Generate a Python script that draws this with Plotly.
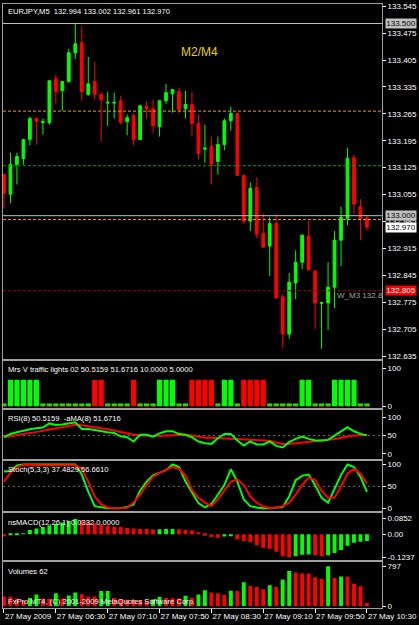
import plotly.graph_objects as go
from plotly.subplots import make_subplots

# ---------------- data ----------------
bar_index = list(range(57))
tick_bars = [0, 8, 16, 24, 32, 40, 48, 56]
tick_labels = ["27 May 2009", "27 May 06:30", "27 May 07:10", "27 May 07:50",
               "27 May 08:30", "27 May 09:10", "27 May 09:50", "27 May 10:30"]

opens = [133.107, 133.056, 133.133, 133.149, 133.198, 133.253, 133.242, 133.242, 133.356, 133.325,
         133.349, 133.424, 133.450, 133.315, 133.349, 133.315, 133.293, 133.293, 133.299, 133.245,
         133.260, 133.198, 133.284, 133.278, 133.232, 133.299, 133.317, 133.323, 133.278, 133.289,
         133.240, 133.173, 133.180, 133.141, 133.185, 133.247, 133.266, 133.105, 132.986, 133.074,
         132.954, 132.921, 132.980, 132.789, 132.692, 132.825, 132.879, 132.947, 132.856, 132.772,
         132.773, 132.814, 132.936, 132.993, 133.151, 133.024, 132.994]
highs = [133.109, 133.164, 133.164, 133.200, 133.258, 133.255, 133.253, 133.352, 133.367, 133.350,
         133.434, 133.499, 133.494, 133.413, 133.400, 133.323, 133.323, 133.320, 133.312, 133.263,
         133.266, 133.287, 133.297, 133.302, 133.300, 133.343, 133.329, 133.333, 133.325, 133.323,
         133.263, 133.237, 133.206, 133.206, 133.253, 133.284, 133.267, 133.105, 133.087, 133.100,
         133.006, 132.996, 133.004, 132.796, 132.851, 132.910, 132.952, 132.986, 132.857, 132.776,
         132.879, 132.960, 133.024, 133.177, 133.159, 133.043, 133.002]
lows = [133.019, 133.032, 133.081, 133.133, 133.183, 133.185, 133.211, 133.237, 133.291, 133.273,
        133.346, 133.408, 133.299, 133.312, 133.302, 133.193, 133.234, 133.253, 133.237, 133.209,
        133.183, 133.197, 133.253, 133.214, 133.206, 133.291, 133.268, 133.266, 133.253, 133.206,
        133.146, 133.138, 133.081, 133.107, 133.170, 133.221, 133.104, 132.978, 132.960, 132.941,
        132.917, 132.843, 132.785, 132.656, 132.680, 132.783, 132.861, 132.858, 132.705, 132.654,
        132.703, 132.760, 132.869, 132.975, 133.004, 132.936, 132.961]
closes = [133.058, 133.133, 133.154, 133.198, 133.253, 133.245, 133.245, 133.351, 133.323, 133.349,
          133.424, 133.447, 133.323, 133.343, 133.315, 133.302, 133.295, 133.295, 133.242, 133.255,
          133.198, 133.286, 133.278, 133.234, 133.299, 133.320, 133.328, 133.276, 133.289, 133.240,
          133.162, 133.176, 133.133, 133.185, 133.247, 133.266, 133.105, 132.986, 133.071, 132.952,
          132.918, 132.980, 132.786, 132.692, 132.827, 132.879, 132.949, 132.859, 132.773, 132.774,
          132.814, 132.936, 132.996, 133.149, 133.030, 132.993, 132.970]

price_ticks = [133.545, 133.475, 133.405, 133.335, 133.265, 133.195, 133.125, 133.055,
               132.985, 132.915, 132.845, 132.775, 132.705, 132.635]

# horizontal levels on the price chart
level_gray = [133.500, 133.000]
level_orange = [133.272, 132.990]
level_green = [133.130]
level_darkred = [132.805]
last_price = 132.970

# traffic lights: 1 green, -1 red, 0 none
traffic = [0, 1, 1, 1, 1, 1, 0, 0, 0, 0, 0, 0, 0, 0, -1, -1, 0, 0, 0, 0,
           -1, 0, 0, 0, 1, 1, 1, 0, 0, -1, -1, -1, -1, 0, 1, 1, 0, -1, -1, -1,
           -1, 0, 0, 0, 0, 0, 1, 1, 0, 0, 0, 1, 1, 1, 1, 0, 0]
light_on = 70
light_off_red = 3
light_off_green = 4

rsi = [45.5, 54.5, 59, 63.5, 67, 70, 71.6, 83, 79, 80,
       82.4, 86, 68, 68, 65, 61, 59, 57, 48, 45.5,
       34, 52, 52, 47, 56, 61.7, 62, 54, 52, 45.5,
       34, 29, 27.5, 42.8, 54.5, 54.5, 36.5, 23, 34, 26,
       26, 34, 22, 17.6, 32, 41, 47.3, 41, 36.5, 36.5,
       38.3, 50, 61, 72.5, 61.7, 54.5, 50.5159]
rsi_ma = [45.5, 48, 51, 54, 57, 60, 63, 66, 69, 72,
          76, 79, 78, 76, 73, 70, 67, 63, 59, 55,
          52, 50, 49, 48, 49, 50, 51, 52, 52, 50,
          46, 44, 44, 43, 42, 41, 40, 39, 39, 39,
          38, 36, 31, 27, 27, 29, 31, 33, 34, 35,
          37, 41, 44, 48, 50, 51, 51.6716]

stoch_k = [84, 85, 98, 100, 100, 100, 100, 100, 99, 100,
           100, 100, 77, 38, 5, 2, 0, 0, 0, 3,
           9, 40, 61, 75, 81, 87, 100, 94, 61, 38,
           12, 2, 10, 31, 53, 89, 61, 20, 5, 2,
           0, 0, 2, 3, 27, 64, 74, 77, 53, 24,
           13, 46, 76, 100, 94, 72, 37.4829]
stoch_d = [61, 81, 94, 99, 99, 98, 98, 98, 98, 98,
           98, 98, 90, 61, 27, 9, 2, 0, 0, 1,
           13, 31, 53, 72, 81, 87, 94, 90, 75, 42,
           24, 13, 5, 21, 40, 61, 66, 53, 27, 13,
           4, 1, 2, 5, 13, 31, 53, 70, 65, 40,
           24, 24, 50, 79, 90, 79, 56.661]

macd = [-0.011, -0.006, -0.004, 0.004, 0.022, 0.030, 0.038, 0.046, 0.055, 0.063,
        0.070, 0.082, 0.074, 0.066, 0.058, 0.050, 0.046, 0.041, 0.038, 0.033,
        0.030, 0.028, 0.027, 0.025, 0.026, 0.027, 0.028, 0.026, 0.022, 0.020,
        0.008, -0.008, -0.016, -0.020, -0.013, -0.011, -0.029, -0.037, -0.044, -0.060,
        -0.073, -0.078, -0.094, -0.119, -0.1237, -0.119, -0.111, -0.110, -0.114, -0.119,
        -0.114, -0.101, -0.085, -0.062, -0.046, -0.041, -0.037]

volumes = [190, 185, 145, 100, 160, 230, 150, 140, 255, 150,
           210, 270, 235, 190, 188, 300, 302, 160, 130, 125,
           120, 105, 95, 130, 185, 160, 155, 150, 205, 160,
           230, 315, 272, 253, 221, 304, 298, 477, 400, 381,
           336, 413, 381, 528, 701, 669, 650, 648, 573, 541,
           797, 560, 592, 585, 445, 394, 62]

# ---------------- styles ----------------
UP = "#00ff00"
DN = "#ff0000"
TXT = "#ffffff"
BORDER = "#a0a0a0"
FONT = "Liberation Sans"

fig = make_subplots(rows=6, cols=1, shared_xaxes=True, vertical_spacing=0)

fig.add_trace(go.Candlestick(
    x=bar_index, open=opens, high=highs, low=lows, close=closes,
    increasing=dict(line=dict(color=UP, width=1), fillcolor=UP),
    decreasing=dict(line=dict(color=DN, width=1), fillcolor=DN),
    whiskerwidth=0, hoverinfo="skip"), row=1, col=1)

# traffic lights
g_x = [i for i, t in zip(bar_index, traffic) if t == 1]
r_x = [i for i, t in zip(bar_index, traffic) if t == -1]
o_x = [i for i, t in zip(bar_index, traffic) if t == 0]
fig.add_trace(go.Bar(x=g_x, y=[light_on] * len(g_x), marker_color=UP, marker_line_width=0, width=0.8), row=2, col=1)
fig.add_trace(go.Bar(x=r_x, y=[light_on] * len(r_x), marker_color=DN, marker_line_width=0, width=0.8), row=2, col=1)
fig.add_trace(go.Bar(x=o_x, y=[light_off_red] * len(o_x), marker_color=DN, marker_line_width=0, width=0.8), row=2, col=1)
fig.add_trace(go.Bar(x=o_x, y=[light_off_green] * len(o_x), base=[light_off_red] * len(o_x),
                     marker_color=UP, marker_line_width=0, width=0.8), row=2, col=1)

# RSI
fig.add_trace(go.Scatter(x=bar_index, y=rsi_ma, mode="lines", line=dict(color=DN, width=2)), row=3, col=1)
fig.add_trace(go.Scatter(x=bar_index, y=rsi, mode="lines", line=dict(color=UP, width=2)), row=3, col=1)

# Stochastic
fig.add_trace(go.Scatter(x=bar_index, y=stoch_k, mode="lines", line=dict(color=UP, width=2)), row=4, col=1)
fig.add_trace(go.Scatter(x=bar_index, y=stoch_d, mode="lines", line=dict(color=DN, width=2)), row=4, col=1)

# MACD histogram
macd_colors = [DN] + [UP if macd[i] > macd[i - 1] else DN for i in range(1, len(macd))]
fig.add_trace(go.Bar(x=bar_index, y=macd, marker_color=macd_colors, marker_line_width=0, width=0.6), row=5, col=1)

# Volumes
vol_colors = [DN] + [UP if volumes[i] > volumes[i - 1] else DN for i in range(1, len(volumes))]
fig.add_trace(go.Bar(x=bar_index, y=volumes, marker_color=vol_colors, marker_line_width=0, width=0.6), row=6, col=1)

H = 606.0
def dom(top_px, bot_px):
    return [(608 - bot_px) / H, (608 - top_px) / H]

domains = [dom(2, 358), dom(360, 407), dom(409, 459), dom(461, 511), dom(513, 560), dom(562, 608)]
ranges = [[132.6277, 133.5507], [-4, 120], [-14.9, 120.3], [-6.8, 106.8], [-0.1398, 0.1120], [-39.8, 876.7]]
tickvals = [price_ticks, [100, 0], [100, 50, 0], [100, 50, 0], [0.0852, 0, -0.1237], [797, 0]]
ticktexts = [[f"{v:.3f}" for v in price_ticks], ["100", "0"], ["100", "50", "0"], ["100", "50", "0"],
             ["0.0852", "0.00", "-0.1237"], ["797", "0"]]

for r in range(6):
    ya = "yaxis" if r == 0 else f"yaxis{r+1}"
    xa = "xaxis" if r == 0 else f"xaxis{r+1}"
    fig.layout[ya].update(domain=domains[r], range=ranges[r], side="right", showgrid=False, zeroline=False,
                          tickmode="array", tickvals=tickvals[r], ticktext=ticktexts[r],
                          ticks="outside", ticklen=3, tickcolor=TXT, tickwidth=1,
                          tickfont=dict(color=TXT, size=8, family=FONT),
                          showline=True, mirror=True, linecolor=BORDER, linewidth=1, fixedrange=True)
    fig.layout[xa].update(range=[-0.1527, 58.32], showgrid=False, zeroline=False,
                          showline=True, mirror=True, linecolor=BORDER, linewidth=1,
                          rangeslider=dict(visible=False), showticklabels=False, ticks="")

fig.layout.xaxis6.update(showticklabels=True, tickmode="array", tickvals=tick_bars, ticktext=tick_labels,
                         ticks="outside", ticklen=4, tickcolor=TXT, ticklabelposition="outside right",
                         tickangle=0, tickfont=dict(color=TXT, size=8, family=FONT))

shapes = []
for lv in level_gray:
    shapes.append(dict(type="line", xref="x domain", x0=0, x1=1, yref="y", y0=lv, y1=lv,
                       line=dict(color="#c0c0c0", width=1)))
for lv in level_orange:
    shapes.append(dict(type="line", xref="x domain", x0=0, x1=1, yref="y", y0=lv, y1=lv,
                       line=dict(color="#f0a000", width=1, dash="3px,2px")))
for lv in level_green:
    shapes.append(dict(type="line", xref="x domain", x0=0, x1=1, yref="y", y0=lv, y1=lv,
                       line=dict(color="#00a000", width=1, dash="3px,2px")))
for lv in level_darkred:
    shapes.append(dict(type="line", xref="x domain", x0=0, x1=1, yref="y", y0=lv, y1=lv,
                       line=dict(color="#a00000", width=1, dash="3px,2px")))
for xr, yr in (("x3", "y3"), ("x4", "y4")):
    shapes.append(dict(type="line", xref=f"{xr} domain", x0=0, x1=1, yref=yr, y0=50, y1=50,
                       line=dict(color="#707070", width=1, dash="2px,3px"), layer="below"))

small = dict(family=FONT, size=7.6, color=TXT)
annotations = [
    dict(text="EURJPY,M5  132.994 133.002 132.961 132.970", xref="paper", x=0, xshift=3, xanchor="left",
         yref="y domain", y=1, yanchor="top", yshift=-1, showarrow=False, font=small),
    dict(text="M2/M4", xref="x", x=30.2, yref="y", y=133.426, showarrow=False,
         font=dict(family=FONT, size=12, color="#e6d000")),
    dict(text="W_M3 132.8", xref="x", x=51.1, xanchor="left", yref="y", y=132.792, showarrow=False,
         font=dict(family=FONT, size=8, color="#a0a0a0")),
    dict(text="Mrs V traffic lights 02 50.5159 51.6716 10.0000 5.0000", xref="paper", x=0, xshift=3,
         xanchor="left", yref="y2 domain", y=1, yanchor="top", yshift=-2, showarrow=False, font=small),
    dict(text="RSI(8) 50.5159  -aMA(8) 51.6716", xref="paper", x=0, xshift=3,
         xanchor="left", yref="y3 domain", y=1, yanchor="top", yshift=-2, showarrow=False, font=small),
    dict(text="Stoch(5,3,3) 37.4829 56.6610", xref="paper", x=0, xshift=3,
         xanchor="left", yref="y4 domain", y=1, yanchor="top", yshift=-2, showarrow=False, font=small),
    dict(text="nsMACD(12,26,1) 0.0332 0.0000", xref="paper", x=0, xshift=3,
         xanchor="left", yref="y5 domain", y=1, yanchor="top", yshift=-3, showarrow=False, font=small),
    dict(text="Volumes 62", xref="paper", x=0, xshift=3,
         xanchor="left", yref="y6 domain", y=1, yanchor="top", yshift=-3, showarrow=False, font=small),
    dict(text="FxPro MT4, (C) 2001-2009 MetaQuotes Software Corp.", xref="paper", x=0, xshift=3,
         xanchor="left", yref="y6 domain", y=0, yanchor="bottom", yshift=0, showarrow=False, font=small),
]

box_labels = [(level_gray[0], "#c0c0c0", "#000000"), (level_gray[1], "#c0c0c0", "#000000"),
              (last_price, "#ffffff", "#000000"), (level_darkred[0], "#ff0000", "#ffffff")]
for val, bg, fc in box_labels:
    annotations.append(dict(text=f"{val:.3f}", xref="paper", x=1, xshift=3, xanchor="left",
                            yref="y", y=val, yanchor="middle", showarrow=False, bgcolor=bg,
                            borderpad=0, width=30, height=9, font=dict(family=FONT, size=8, color=fc)))

fig.update_layout(width=419, height=625, margin=dict(l=2, r=34, t=2, b=17),
                  paper_bgcolor="#000000", plot_bgcolor="#000000", showlegend=False,
                  barmode="overlay", boxgap=0.4, font=dict(family=FONT, size=8, color=TXT),
                  shapes=shapes, annotations=annotations, hovermode=False)

fig.write_html("out.html")
